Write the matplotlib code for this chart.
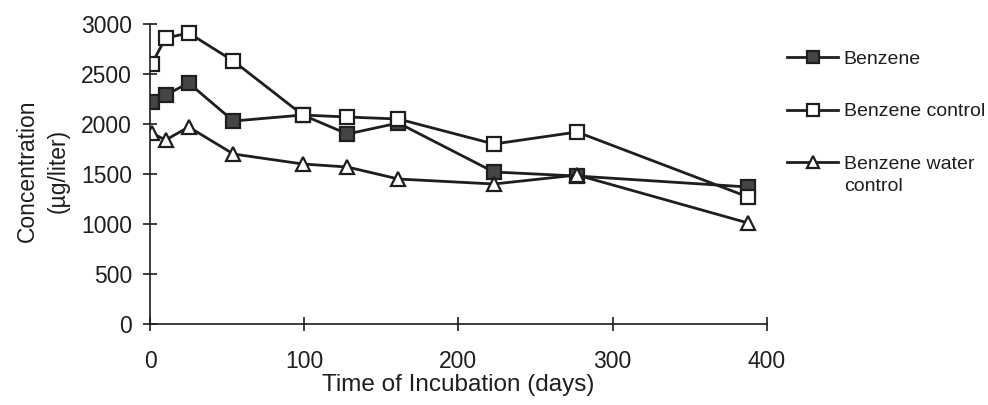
import matplotlib
matplotlib.use("Agg")
import matplotlib.pyplot as plt

# days of incubation
days = [1, 10, 25, 54, 99, 128, 161, 223, 277, 388]

benzene = [2220, 2290, 2410, 2030, 2090, 1900, 2010, 1520, 1480, 1370]
benzene_control = [2600, 2860, 2910, 2630, 2090, 2070, 2050, 1800, 1920, 1270]
water_control = [1910, 1840, 1970, 1700, 1600, 1570, 1450, 1400, 1490, 1010]

labels = ["Benzene", "Benzene control", "Benzene water\ncontrol"]
x_ticks = [0, 100, 200, 300, 400]
y_ticks = [0, 500, 1000, 1500, 2000, 2500, 3000]

plt.rcParams["font.family"] = ["Liberation Sans", "DejaVu Sans"]

fig = plt.figure(figsize=(9.88, 4.05), dpi=100)
ax = fig.add_axes([0.152, 0.2, 0.624, 0.7407])

ink = "#1e1e1e"
common = dict(color=ink, lw=2.0, markersize=10, markeredgewidth=1.6, markeredgecolor=ink)
ax.plot(days, benzene, marker="s", markerfacecolor="#454545", label=labels[0], **common)
ax.plot(days, benzene_control, marker="s", markerfacecolor="white", label=labels[1], **common)
# legend gets first line only, second line added under it (keeps handle on first line)
first, _, rest = labels[2].partition("\n")
ax.plot(days, water_control, marker="^", markerfacecolor="white", label=first, **common)

ax.set_xlim(0, 400)
ax.set_ylim(0, 3000)
ax.set_xticks(x_ticks)
ax.set_yticks(y_ticks)
ax.spines["top"].set_visible(False)
ax.spines["right"].set_visible(False)
for s in ("left", "bottom"):
    ax.spines[s].set_color(ink)
    ax.spines[s].set_linewidth(1.2)
ax.tick_params(direction="inout", length=10, width=1.2, colors=ink, labelsize=16.5)
ax.tick_params(axis="x", pad=14)
ax.tick_params(axis="y", pad=8)

ax.set_xlabel("Time of Incubation (days)", fontsize=17.5, color=ink)
ax.xaxis.set_label_coords(0.5, -0.166)
ax.set_ylabel("Concentration\n(µg/liter)", fontsize=16.5, color=ink, linespacing=1.45)
ax.yaxis.set_label_coords(-0.13, 0.51)

leg = fig.legend(loc="upper left", bbox_to_anchor=(0.797, 0.876), frameon=False,
                 borderpad=0, borderaxespad=0, fontsize=14, markerscale=0.85,
                 handlelength=2.6, handletextpad=0.3, labelspacing=1.8)
for t in leg.get_texts():
    t.set_color(ink)
fig.canvas.draw()
ax.annotate(rest, xy=(0, 0), xycoords=leg.get_texts()[2], xytext=(0, -3.5),
            textcoords="offset points", ha="left", va="top", fontsize=14, color=ink)

fig.savefig("out.png", dpi=100)
